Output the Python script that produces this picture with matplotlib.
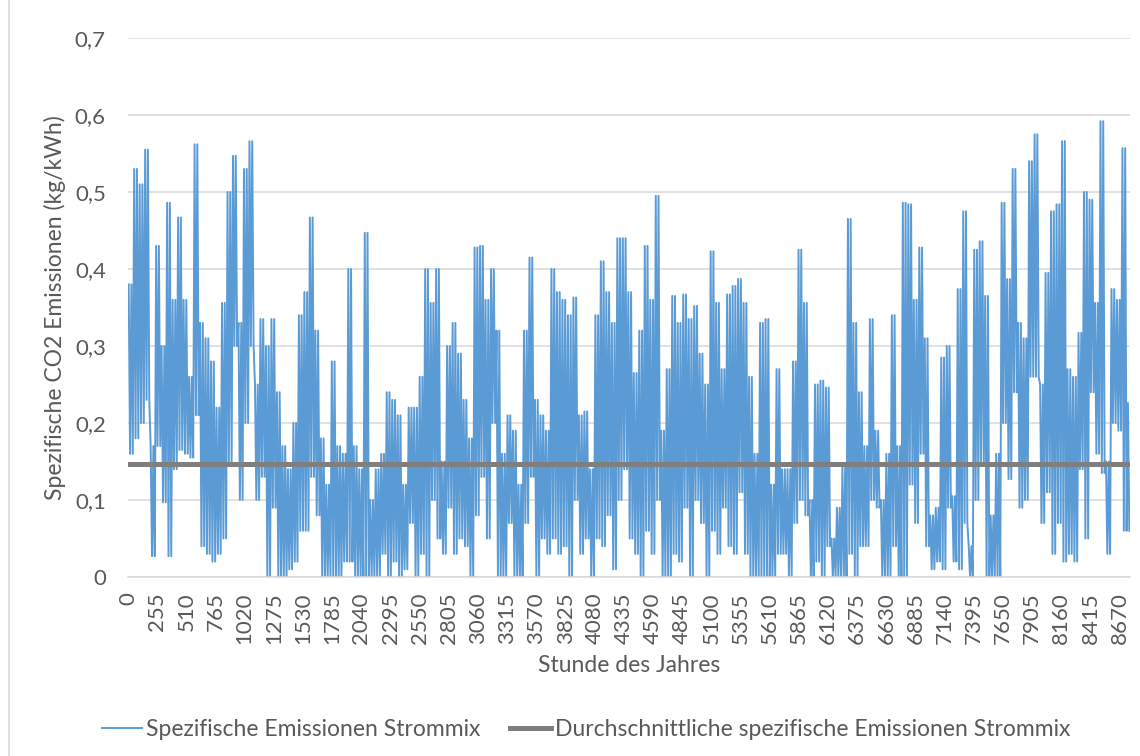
import numpy as np
import matplotlib.pyplot as plt
from matplotlib.ticker import FuncFormatter
from matplotlib.lines import Line2D

plt.rcParams['font.family'] = ['Lato', 'DejaVu Sans']

block_hours = 48
block_max = [0.38, 0.53, 0.51, 0.555, 0.17, 0.43, 0.30, 0.486, 0.36, 0.467,
             0.36, 0.26, 0.562, 0.33, 0.31, 0.28, 0.22, 0.356, 0.50, 0.547,
             0.33, 0.53, 0.566, 0.25, 0.335, 0.30, 0.335, 0.24, 0.17, 0.14,
             0.20, 0.34, 0.37, 0.467, 0.32, 0.18, 0.12, 0.28, 0.17, 0.16,
             0.40, 0.17, 0.14, 0.447, 0.10, 0.14, 0.16, 0.24, 0.23, 0.21,
             0.12, 0.22, 0.22, 0.26, 0.40, 0.356, 0.40, 0.15, 0.30, 0.33,
             0.29, 0.23, 0.18, 0.428, 0.43, 0.36, 0.40, 0.32, 0.16, 0.21,
             0.19, 0.12, 0.32, 0.415, 0.23, 0.21, 0.19, 0.40, 0.37, 0.36,
             0.34, 0.363, 0.21, 0.215, 0.14, 0.34, 0.41, 0.37, 0.33, 0.44,
             0.44, 0.37, 0.265, 0.32, 0.43, 0.36, 0.495, 0.19, 0.27, 0.365,
             0.33, 0.367, 0.335, 0.352, 0.29, 0.25, 0.423, 0.356, 0.27, 0.367,
             0.378, 0.387, 0.356, 0.26, 0.16, 0.33, 0.335, 0.12, 0.27, 0.14,
             0.14, 0.28, 0.425, 0.356, 0.10, 0.25, 0.255, 0.246, 0.05, 0.09,
             0.144, 0.465, 0.33, 0.24, 0.17, 0.335, 0.19, 0.10, 0.16, 0.34,
             0.17, 0.486, 0.484, 0.36, 0.428, 0.31, 0.08, 0.09, 0.285, 0.30,
             0.105, 0.374, 0.475, 0.04, 0.425, 0.436, 0.365, 0.08, 0.16, 0.486,
             0.387, 0.53, 0.33, 0.31, 0.54, 0.575, 0.25, 0.395, 0.475, 0.484,
             0.566, 0.27, 0.26, 0.317, 0.50, 0.49, 0.356, 0.592, 0.15, 0.374,
             0.36, 0.557, 0.226]
block_min = [0.16, 0.18, 0.20, 0.23, 0.027, 0.17, 0.097, 0.027, 0.14, 0.165,
             0.16, 0.155, 0.21, 0.04, 0.03, 0.02, 0.03, 0.05, 0.15, 0.30,
             0.10, 0.20, 0.30, 0.10, 0.13, 0.0, 0.09, 0.0, 0.0, 0.01,
             0.02, 0.06, 0.06, 0.13, 0.08, 0.0, 0.0, 0.0, 0.0, 0.02,
             0.02, 0.0, 0.0, 0.0, 0.0, 0.0, 0.03, 0.0, 0.02, 0.0,
             0.01, 0.07, 0.0, 0.03, 0.0, 0.10, 0.05, 0.03, 0.09, 0.03,
             0.05, 0.04, 0.0, 0.08, 0.13, 0.05, 0.20, 0.0, 0.0, 0.07,
             0.0, 0.0, 0.07, 0.13, 0.0, 0.05, 0.03, 0.05, 0.03, 0.04,
             0.0, 0.10, 0.03, 0.05, 0.0, 0.05, 0.04, 0.08, 0.01, 0.10,
             0.14, 0.05, 0.03, 0.0, 0.06, 0.03, 0.10, 0.0, 0.0, 0.03,
             0.02, 0.09, 0.0, 0.10, 0.07, 0.0, 0.06, 0.03, 0.09, 0.04,
             0.03, 0.11, 0.03, 0.0, 0.0, 0.0, 0.0, 0.0, 0.03, 0.03,
             0.0, 0.07, 0.10, 0.08, 0.0, 0.02, 0.0, 0.04, 0.0, 0.0,
             0.0, 0.03, 0.0, 0.04, 0.04, 0.10, 0.09, 0.0, 0.0, 0.04,
             0.0, 0.0, 0.12, 0.07, 0.16, 0.04, 0.01, 0.02, 0.01, 0.09,
             0.02, 0.01, 0.07, 0.0, 0.10, 0.15, 0.0, 0.0, 0.0, 0.20,
             0.127, 0.24, 0.09, 0.10, 0.26, 0.26, 0.07, 0.11, 0.03, 0.07,
             0.02, 0.03, 0.02, 0.14, 0.05, 0.24, 0.16, 0.135, 0.03, 0.20,
             0.19, 0.06, 0.06]
mittelwert = 0.147
tick_hours = list(range(0, 8671, 255))

# Tagesgang: pro Tag ein Maximum und ein Minimum des jeweiligen Blocks
stunden, werte = [], []
for k, (hi, lo) in enumerate(zip(block_max, block_min)):
    for off, v in zip([6, 18, 30, 42], [hi, lo, hi, lo]):
        h = k * block_hours + off
        if h < 8760:
            stunden.append(h)
            werte.append(v)

fig = plt.figure(figsize=(11.4, 7.56), dpi=100)
ax = fig.add_axes([128 / 1140, 1 - 577 / 756, 1002 / 1140, 539 / 756])

ax.plot(stunden, werte, color='#5B9BD5', lw=1.4)
ax.axhline(mittelwert, color='#7F7F7F', lw=3.6)

ax.set_xlim(0, 8760)
ax.set_ylim(0, 0.7)
ax.set_yticks(np.arange(0, 0.71, 0.1))
ax.yaxis.set_major_formatter(FuncFormatter(
    lambda v, p: '0' if abs(v) < 1e-9 else f'{v:.1f}'.replace('.', ',')))
ax.set_xticks(tick_hours)
ax.set_xticklabels([str(h) for h in tick_hours], rotation=90)

ax.grid(axis='y', color='#D9D9D9', lw=1.1)
ax.set_axisbelow(True)
for s in ['top', 'right', 'left']:
    ax.spines[s].set_visible(False)
ax.spines['bottom'].set_color('#D9D9D9')
ax.spines['bottom'].set_linewidth(1.1)
ax.tick_params(length=0, labelsize=16, colors='#595959')
ax.tick_params(axis='y', pad=16)
ax.tick_params(axis='x', pad=11)

ax.set_xlabel('Stunde des Jahres', fontsize=16.5, color='#595959', labelpad=8)
ax.set_ylabel('Spezifische CO2 Emissionen (kg/kWh)', fontsize=16.5,
              color='#595959', labelpad=6)

handles = [Line2D([], [], color='#5B9BD5', lw=1.4),
           Line2D([], [], color='#7F7F7F', lw=3.6)]
fig.legend(handles, ['Spezifische Emissionen Strommix',
                     'Durchschnittliche spezifische Emissionen Strommix'],
           loc='center', bbox_to_anchor=(586 / 1140, 1 - 730 / 756), ncol=2,
           frameon=False, fontsize=16.5, labelcolor='#595959',
           handlelength=1.75, handletextpad=0.2, columnspacing=1.3)

# Rahmen des Diagrammbereichs
fig.add_artist(Line2D([8.5 / 1140, 8.5 / 1140], [0, 1], color='#D9D9D9', lw=1.2,
                      transform=fig.transFigure))

fig.savefig('out.png', dpi=100)
